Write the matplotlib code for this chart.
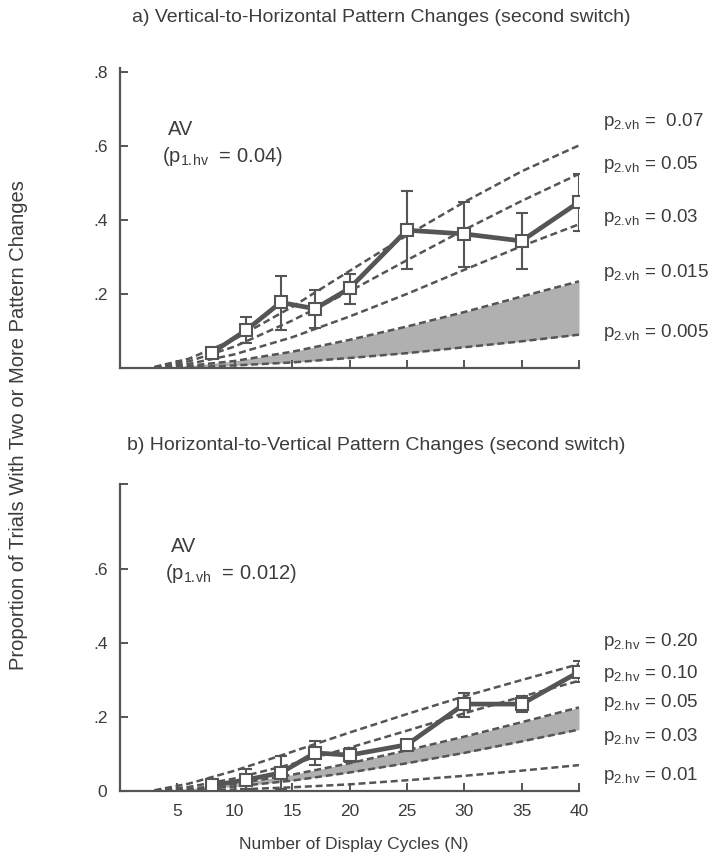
import matplotlib
matplotlib.use("Agg")
import matplotlib.pyplot as plt
import numpy as np

plt.rcParams["font.family"] = ["Liberation Sans", "DejaVu Sans"]
plt.rcParams["mathtext.fontset"] = "custom"
plt.rcParams["mathtext.rm"] = "Liberation Sans"

INK = "#3c3c3c"
LINE = "#555555"
BAND = "#b0b0b0"

# ── data ──────────────────────────────────────────────────────────────────────
# observed points (AV), shared N values
obs_n = [8, 11, 14, 17, 20, 25, 30, 35, 40]

vh_obs = [0.041, 0.102, 0.177, 0.160, 0.215, 0.372, 0.362, 0.343, 0.448]
vh_lo  = [0.036, 0.068, 0.103, 0.108, 0.174, 0.267, 0.274, 0.266, 0.369]
vh_hi  = [0.047, 0.137, 0.248, 0.211, 0.253, 0.478, 0.448, 0.419, 0.524]

hv_obs = [0.015, 0.030, 0.049, 0.103, 0.097, 0.125, 0.235, 0.235, 0.322]
hv_lo  = [0.010, 0.005, 0.005, 0.070, 0.079, 0.113, 0.200, 0.213, 0.294]
hv_hi  = [0.020, 0.060, 0.095, 0.135, 0.116, 0.137, 0.266, 0.258, 0.352]

# model curves, read at these N
curve_n = [3, 6, 10, 15, 20, 25, 30, 35, 40]

vh_p2 = [" 0.07", "0.05", "0.03", "0.015", "0.005"]
vh_curves = [
    [0.003, 0.025, 0.078, 0.165, 0.262, 0.358, 0.448, 0.531, 0.601],
    [0.002, 0.018, 0.058, 0.128, 0.207, 0.291, 0.373, 0.451, 0.524],
    [0.001, 0.011, 0.037, 0.083, 0.139, 0.200, 0.265, 0.329, 0.388],
    [0.001, 0.006, 0.019, 0.044, 0.076, 0.112, 0.151, 0.193, 0.234],
    [0.000, 0.002, 0.007, 0.015, 0.027, 0.040, 0.056, 0.072, 0.090],
]

hv_p2 = ["0.20", "0.10", "0.05", "0.03", "0.01"]
hv_curves = [
    [0.002, 0.020, 0.055, 0.106, 0.158, 0.208, 0.256, 0.300, 0.343],
    [0.001, 0.011, 0.034, 0.073, 0.117, 0.163, 0.210, 0.255, 0.298],
    [0.001, 0.006, 0.019, 0.044, 0.075, 0.110, 0.147, 0.186, 0.226],
    [0.000, 0.003, 0.012, 0.028, 0.050, 0.075, 0.103, 0.134, 0.166],
    [0.000, 0.001, 0.004, 0.010, 0.018, 0.029, 0.041, 0.055, 0.070],
]

# label heights on the right margin
vh_label_y = [0.665, 0.549, 0.405, 0.259, 0.097]
hv_label_y = [0.403, 0.319, 0.238, 0.146, 0.043]

W, H = 711, 861
fig = plt.figure(figsize=(W / 100, H / 100), dpi=100, facecolor="white")

def px_axes(left, bottom, right, top):
    return fig.add_axes([left / W, 1 - bottom / H, (right - left) / W, (bottom - top) / H])

ax1 = px_axes(120, 368, 579, 68)
ax2 = px_axes(120, 791, 579, 484)

def panel(ax, curves, band, obs, lo, hi, ymax):
    for c in curves:
        ax.plot(curve_n, c, color=LINE, lw=1.8, dashes=(2.8, 1.5), zorder=2)
    ax.fill_between(curve_n, curves[band[0]], curves[band[1]], color=BAND, lw=0, zorder=1)
    obs = np.array(obs)
    yerr = [obs - np.array(lo), np.array(hi) - obs]
    ax.errorbar(obs_n, obs, yerr=yerr, color=LINE, lw=3.4, elinewidth=1.5, capsize=4.5,
                capthick=1.5, marker="s", ms=8, mfc="white", mec=LINE, mew=1.5, zorder=4)
    ax.set_xlim(0, 40)
    ax.set_ylim(0, ymax)
    for s in ["top", "right"]:
        ax.spines[s].set_visible(False)
    for s in ["left", "bottom"]:
        ax.spines[s].set_color(LINE)
        ax.spines[s].set_linewidth(1.6)
    ax.tick_params(direction="in", length=6, width=1.4, color=LINE, labelcolor=INK,
                   labelsize=12.5)
    ax.tick_params(axis="y", pad=9)
    ax.set_xticks([5, 10, 15, 20, 25, 30, 35, 40])

panel(ax1, vh_curves, (3, 4), vh_obs, vh_lo, vh_hi, 0.81)
ax1.set_yticks([0.2, 0.4, 0.6, 0.8])
ax1.set_yticklabels([".2", ".4", ".6", ".8"])
ax1.set_xticklabels([])

panel(ax2, hv_curves, (2, 3), hv_obs, hv_lo, hv_hi, 0.83)
ax2.set_yticks([0, 0.2, 0.4, 0.6, 0.83])
ax2.set_yticklabels(["0", ".2", ".4", ".6", ""])
ax2.tick_params(axis="x", pad=9)

# annotations
FS = 14.5
ax1.text(4.2, 0.645, "AV", fontsize=FS, color=INK, va="center")
ax1.text(3.7, 0.572, r"(p$_{\rm 1.\!hv}$  = 0.04)", fontsize=FS, color=INK, va="center")
ax2.text(4.4, 0.66, "AV", fontsize=FS, color=INK, va="center")
ax2.text(3.9, 0.588, r"(p$_{\rm 1.\!vh}$  = 0.012)", fontsize=FS, color=INK, va="center")

for lab, y in zip(vh_p2, vh_label_y):
    ax1.text(42.1, y, r"p$_{\rm 2.\!vh}$ = " + lab, fontsize=13.5, color=INK, va="center",
             clip_on=False)
for lab, y in zip(hv_p2, hv_label_y):
    ax2.text(42.1, y, r"p$_{\rm 2.\!hv}$ = " + lab, fontsize=13.5, color=INK, va="center",
             clip_on=False)

fig.text(381 / W, 1 - 18 / H, "a) Vertical-to-Horizontal Pattern Changes (second switch)",
         ha="center", va="center", fontsize=14, color=INK)
fig.text(376 / W, 1 - 445 / H, "b) Horizontal-to-Vertical Pattern Changes (second switch)",
         ha="center", va="center", fontsize=14, color=INK)
fig.text(19 / W, 1 - 425 / H, "Proportion of Trials With Two or More Pattern Changes",
         rotation=90, ha="center", va="center", fontsize=14.5, color=INK)
fig.text(354 / W, 1 - 845 / H, "Number of Display Cycles (N)", ha="center", va="center",
         fontsize=12.5, color=INK)

fig.savefig("out.png", dpi=100, facecolor="white")
